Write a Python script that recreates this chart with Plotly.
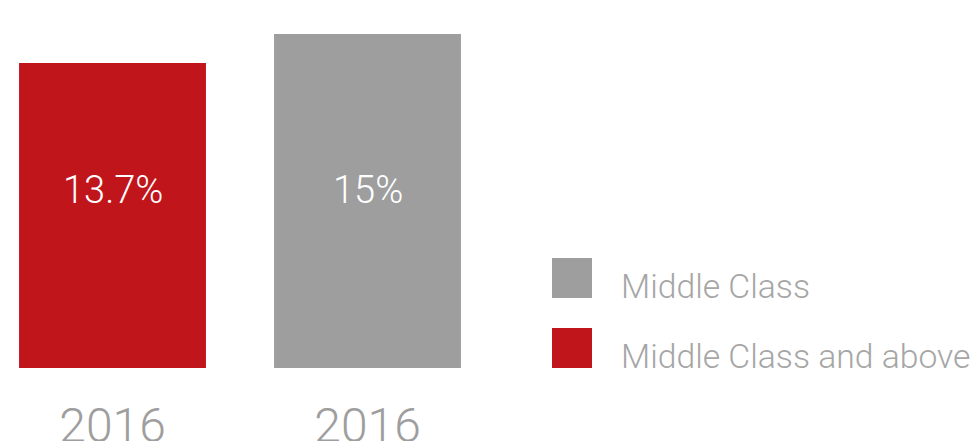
import plotly.graph_objects as go

# Data
series_names = ["Middle Class and above", "Middle Class"]
categories = ["2016", "2016"]
values = [13.7, 15.0]
value_labels = ["13.7%", "15%"]
colors = ["#C1151C", "#9E9E9E"]
legend_order = ["Middle Class", "Middle Class and above"]

W, H = 971, 441
plot_bottom = 368  # pixel bottom of plotting area
ymax = 15.0 * plot_bottom / (plot_bottom - 34)

fig = go.Figure()
xpos = list(range(len(values)))
for i, (name, v, c) in enumerate(zip(series_names, values, colors)):
    fig.add_trace(go.Bar(
        x=[xpos[i]], y=[v], name=name, marker=dict(color=c, line=dict(width=0)),
        width=0.733, showlegend=False, hoverinfo="skip",
    ))

font_family = "Roboto"

# value labels at fixed vertical level
for i, lab in enumerate(value_labels):
    fig.add_annotation(
        x=xpos[i], y=(plot_bottom - 190) / plot_bottom, xref="x", yref="paper",
        text=lab, showarrow=False, xanchor="center", yanchor="middle",
        font=dict(family=font_family, size=38, color="#FFFFFF", weight=300),
    )

# custom legend
name_to_color = dict(zip(series_names, colors))
for k, name in enumerate(legend_order):
    top = 258 + 70 * k
    fig.add_shape(
        type="rect", xref="paper", yref="paper",
        x0=552 / W, x1=592 / W,
        y0=(plot_bottom - (top + 40)) / plot_bottom, y1=(plot_bottom - top) / plot_bottom,
        fillcolor=name_to_color[name], line=dict(width=0), layer="above",
    )
    fig.add_annotation(
        x=619 / W, y=(plot_bottom - (top + 28)) / plot_bottom, xref="paper", yref="paper",
        text=name, showarrow=False, xanchor="left", yanchor="middle",
        font=dict(family=font_family, size=33.7, color="#A6A6A6", weight=300),
    )

x0 = -112.5 / 255
fig.update_layout(
    width=W, height=H,
    margin=dict(l=0, r=0, t=0, b=H - plot_bottom, pad=0, autoexpand=False),
    paper_bgcolor="white", plot_bgcolor="white",
    barmode="overlay",
    xaxis=dict(
        range=[x0, x0 + W / 255], tickmode="array", tickvals=xpos, ticktext=categories,
        showgrid=False, zeroline=False, showline=False, ticks="",
        ticklabelstandoff=25, automargin=False,
        tickfont=dict(family=font_family, size=48, color="#9E9E9E", weight=300),
        fixedrange=True,
    ),
    yaxis=dict(range=[0, ymax], visible=False, fixedrange=True, automargin=False),
    showlegend=False,
)

fig.write_html("out.html")
